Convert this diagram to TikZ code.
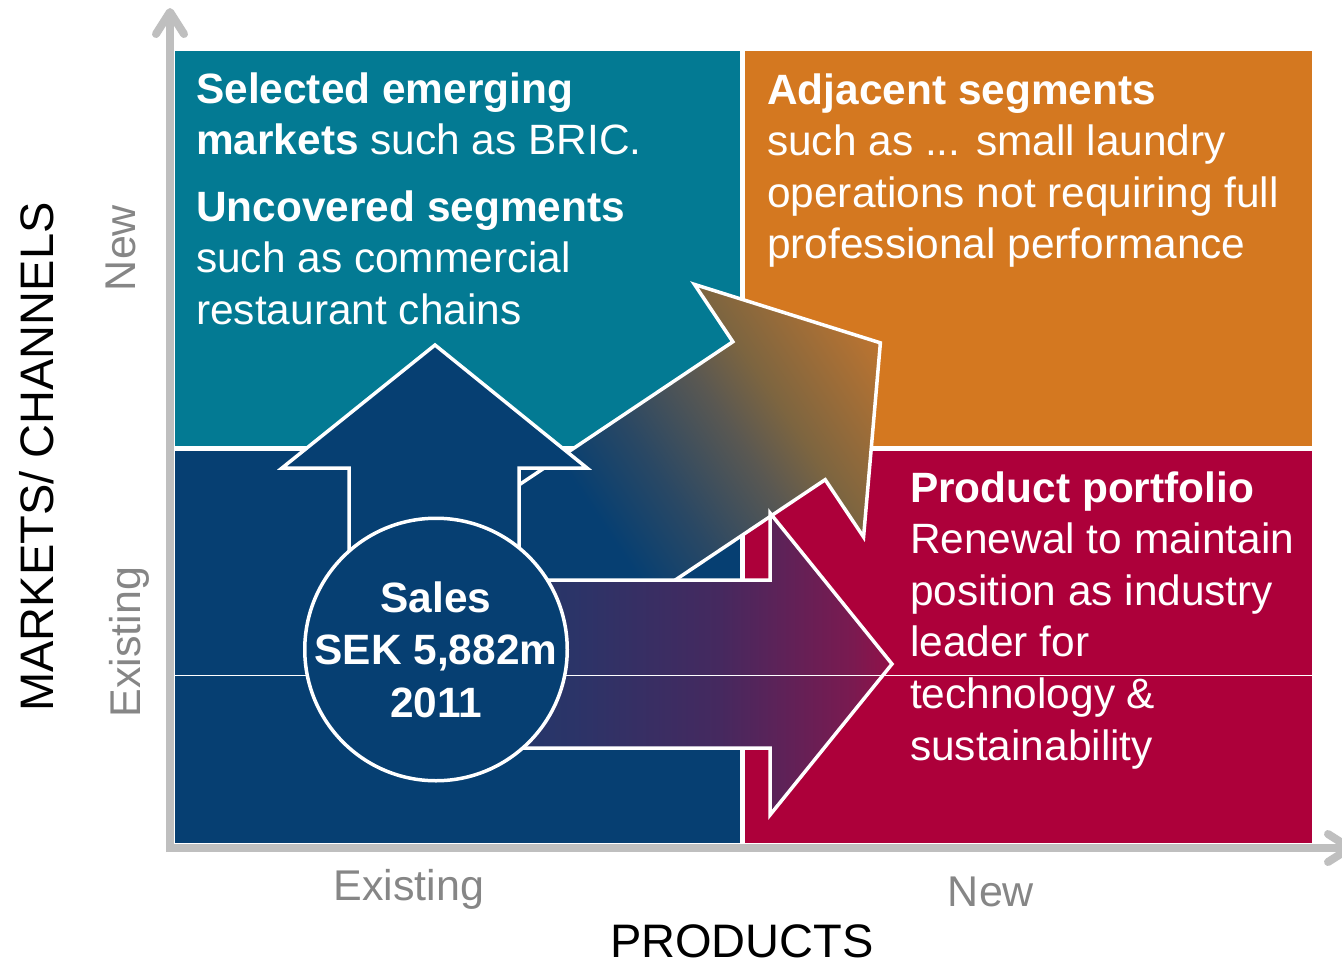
\documentclass[tikz,border=0pt]{standalone}
\usepackage{fontspec}
\setmainfont{Liberation Sans}
\usetikzlibrary{arrows.meta}

% quadrant and label colours
\definecolor{tealq}{HTML}{037A93}
\definecolor{orangeq}{HTML}{D47820}
\definecolor{navyq}{HTML}{063F72}
\definecolor{crimsonq}{HTML}{AD003A}
\definecolor{axisgray}{HTML}{BFBFBF}
\definecolor{labelgray}{HTML}{868686}

% colours of the diagonal (navy to amber) arrow
\definecolor{dgA}{HTML}{2A4864}
\definecolor{dgB}{HTML}{5A5852}
\definecolor{dgC}{HTML}{7D6540}
\definecolor{dgD}{HTML}{BC7430}
% colours of the horizontal (navy to crimson) arrow
\definecolor{hzA}{HTML}{1F3A6C}
\definecolor{hzB}{HTML}{2B3468}
\definecolor{hzC}{HTML}{45295F}
\definecolor{hzD}{HTML}{7A1A50}
\definecolor{hzE}{HTML}{921048}

% the path's bounding box maps onto 25bp..75bp
\pgfdeclarehorizontalshading{diagshade}{100bp}{color(0bp)=(navyq); color(44bp)=(navyq); color(51bp)=(dgA); color(59bp)=(dgB); color(64bp)=(dgC); color(75bp)=(dgD); color(100bp)=(dgD)}
\pgfdeclarehorizontalshading{horzshade}{100bp}{color(0bp)=(hzA); color(25bp)=(hzA); color(40bp)=(hzB); color(56bp)=(hzC); color(70.7bp)=(hzD); color(75bp)=(hzE); color(100bp)=(hzE)}

\newcommand{\quadfont}{\fontsize{42.4}{51.6}\selectfont}

\begin{document}
\begin{tikzpicture}[x=1pt,y=-1pt,
  arrowline/.style={draw=white, line width=3.5pt, line join=miter},
  qtext/.style={anchor=base west, inner sep=0pt, text=white},
  axisline/.style={draw=axisgray, line width=8pt,
    -{Straight Barb[length=22pt,width=28pt,round]}},
  axislabel/.style={inner sep=0pt, text=labelgray, font=\fontsize{43}{50}\selectfont},
  axistitle/.style={inner sep=0pt, text=black, font=\fontsize{47}{56}\selectfont},
]
\useasboundingbox (0,0) rectangle (1342,964);
\fill[white] (0,0) rectangle (1342,964);

% four quadrants
\fill[tealq]    (175,51)  rectangle (740,446);
\fill[orangeq]  (745,51)  rectangle (1312,446);
\fill[navyq]    (175,451) rectangle (740,843);
\fill[crimsonq] (745,451) rectangle (1312,843);

% axes
\coordinate (corner) at (170,852);
\coordinate (ytop) at (170,8);
\coordinate (xleft) at (166,848);
\coordinate (xend) at (1354,848);
\draw[axisline] (corner) -- (ytop);
\draw[axisline] (xleft) -- (xend);

% quadrant texts
\node[qtext] (tl) at (196,103) {\parbox[t]{540pt}{\quadfont\raggedright
  \textbf{Selected emerging}\\
  \textbf{markets} such as BRIC.\\[15pt]
  \textbf{Uncovered segments}\\
  such as commercial\\
  restaurant chains}};
\node[qtext] (tr) at (767,104) {\parbox[t]{545pt}{\quadfont\raggedright
  \textbf{Adjacent segments}\\
  such as ... small laundry\\
  operations not requiring full\\
  professional performance}};
\node[qtext] (br) at (910,502) {\parbox[t]{400pt}{\quadfont\raggedright
  \textbf{Product portfolio}\\
  Renewal to maintain\\
  position as industry\\
  leader for\\
  technology \&\\
  sustainability}};

% diagonal arrow towards adjacent segments
\begin{scope}[transform canvas={shift={(435,641)}, rotate=33.8}]
  \shadedraw[shading=diagshade, arrowline]
    (0,-83) -- (414,-83) -- (414,-152) -- (536,0) -- (414,152) -- (414,83) -- (0,83) -- cycle;
\end{scope}

% horizontal arrow towards new products
\shadedraw[shading=horzshade, arrowline]
  (435,580) -- (770,580) -- (770,513) -- (892,664) -- (770,815) -- (770,748) -- (435,748) -- cycle;

% upward arrow towards new markets
\filldraw[fill=navyq, arrowline]
  (349,650) -- (349,468) -- (282,468) -- (435,345) -- (587,468) -- (519,468) -- (519,650) -- cycle;

% thin rule across the lower half
\draw[white, line width=1pt] (175,675) -- (1312,675);

% sales circle and its figures
\node[circle, fill=navyq, draw=white, line width=3.5pt, minimum size=262.5pt, inner sep=0pt]
  (sales) at (436,649.5) {};
\node[align=center, inner sep=0pt, text=white, font=\bfseries\fontsize{42.4}{52.5}\selectfont]
  (salestext) at (sales.center) {Sales\\SEK 5,882m\\2011};

% axis labels
\node[axistitle, rotate=90] (ymarkets) at (37,457) {MARKETS/ CHANNELS};
\node[axislabel, rotate=90] (ynew) at (121,248) {New};
\node[axislabel, rotate=90] (yexist) at (129,642) {Existing};
\node[axislabel] (xexist) at (409,889) {Existing};
\node[axislabel] (xnew) at (991,892) {New};
\node[axistitle] (xproducts) at (742,941) {PRODUCTS};
\end{tikzpicture}
\end{document}
